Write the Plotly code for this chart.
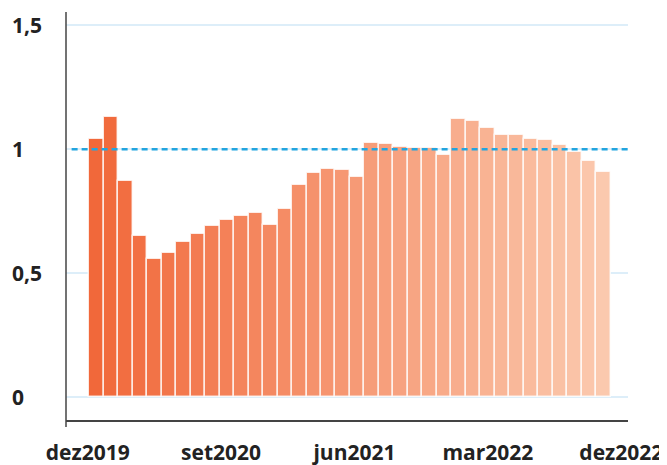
import plotly.graph_objects as go

# ---- data ----
months = ["jan2020","fev2020","mar2020","abr2020","mai2020","jun2020","jul2020","ago2020",
          "set2020","out2020","nov2020","dez2020","jan2021","fev2021","mar2021","abr2021",
          "mai2021","jun2021","jul2021","ago2021","set2021","out2021","nov2021","dez2021",
          "jan2022","fev2022","mar2022","abr2022","mai2022","jun2022","jul2022","ago2022",
          "set2022","out2022","nov2022","dez2022"]
values = [1.043, 1.130, 0.871, 0.649, 0.557, 0.579, 0.623, 0.656, 0.688, 0.713, 0.730, 0.744,
          0.693, 0.757, 0.855, 0.904, 0.918, 0.914, 0.886, 1.023, 1.019, 1.008, 1.003, 1.003,
          0.976, 1.121, 1.114, 1.084, 1.058, 1.059, 1.040, 1.036, 1.016, 0.989, 0.952, 0.908]
x_tick_labels = ["dez2019", "set2020", "jun2021", "mar2022", "dez2022"]
x_tick_pos = [-0.61, 8.6, 17.81, 27.02, 36.24]
y_tick_vals = [0, 0.5, 1, 1.5]
y_tick_text = ["0", "0,5", "1", "1,5"]
reference_level = 1.0

# ---- colours: gradient from dark to light orange ----
c0 = (241, 104, 58)
c1 = (251, 201, 174)
n = len(values)
colors = []
for i in range(n):
    t = i / (n - 1)
    r, g, b = (round(c0[k] + (c1[k] - c0[k]) * t) for k in range(3))
    colors.append(f"rgb({r},{g},{b})")

xs = list(range(n))

fig = go.Figure()
fig.add_trace(go.Bar(
    x=xs, y=values, customdata=months,
    hovertemplate="%{customdata}: %{y}<extra></extra>",
    marker=dict(color=colors, line=dict(color="rgba(255,255,255,0.8)", width=1.5)),
))

font_family = "Open Sans, Noto Sans, sans-serif"

# page body adds an 8px offset, so the figure is 659x457
fig.update_layout(
    width=659, height=457,
    margin=dict(l=58, r=39, t=4, b=45, autoexpand=False),
    paper_bgcolor="white", plot_bgcolor="white",
    bargap=0, showlegend=False,
    font=dict(family=font_family, size=21, color="#222222"),
    xaxis=dict(
        range=[-2.11, 36.7], tickvals=x_tick_pos, ticktext=x_tick_labels,
        automargin=False,
        showgrid=False, zeroline=False, showline=True, linecolor="#444444", linewidth=1.5,
        ticks="outside", ticklen=13, tickcolor="rgba(0,0,0,0)",
        tickfont=dict(family=font_family, size=21, color="#222222", weight="bold"),
        fixedrange=True,
    ),
    yaxis=dict(
        range=[-0.094, 1.554], tickvals=y_tick_vals, showticklabels=False,
        automargin=False,
        showgrid=True, gridcolor="#ddeef9", gridwidth=2, zeroline=False,
        showline=False, fixedrange=True,
    ),
)

# y tick labels, left aligned
for v, txt in zip(y_tick_vals, y_tick_text):
    fig.add_annotation(
        x=-0.1, xref="paper", y=v, yref="y", text=txt, showarrow=False,
        xanchor="left", yanchor="middle",
        font=dict(family=font_family, size=21, color="#222222", weight="bold"),
    )

# y-axis line (extends slightly below the x axis)
fig.add_shape(type="line", xref="paper", yref="paper", x0=0, x1=0, y0=-0.017, y1=1,
              line=dict(color="#444444", width=1.5))

# dashed reference line
fig.add_shape(type="line", xref="paper", yref="y", x0=0.01, x1=1,
              y0=reference_level, y1=reference_level,
              line=dict(color="#22a5df", width=2.5, dash="6px,4px"))

fig.write_html("out.html")
